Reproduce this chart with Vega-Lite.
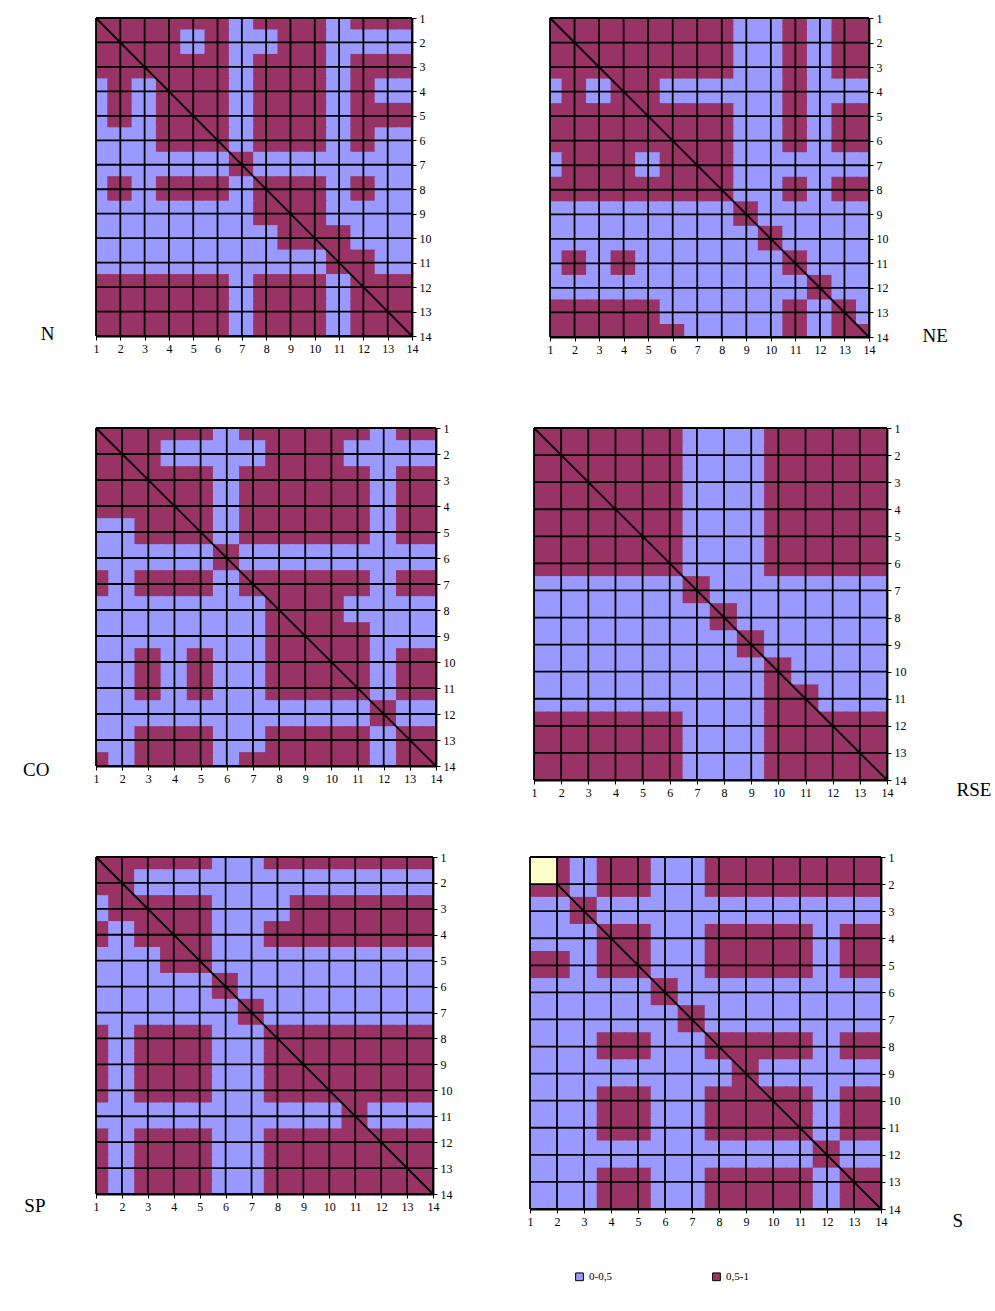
{
  "$schema": "https://vega.github.io/schema/vega-lite/v6.json",
  "padding": {"left": 22, "top": 12, "right": 0, "bottom": 0},
  "background": "white",
  "config": {
    "font": "Liberation Serif",
    "view": {"stroke": null},
    "axis": {"grid": false, "labelFont": "Liberation Serif", "labelFontSize": 12, "labelColor": "black", "tickColor": "black", "tickSize": 4, "tickWidth": 1, "domainColor": "black", "domainWidth": 1.8, "labelPadding": 3, "labelOverlap": false, "labelFlush": false, "titleFont": "Liberation Serif", "titleFontSize": 19, "titleFontWeight": "normal", "titleColor": "black", "titleAngle": 0, "titleBaseline": "middle"},
    "rule": {"color": "black", "strokeWidth": 1.8},
    "legend": {"orient": "none", "legendX": 478, "legendY": 1253, "direction": "horizontal", "title": null, "labelFont": "Liberation Serif", "labelFontSize": 11, "labelColor": "black", "symbolType": "square", "symbolSize": 60, "symbolStrokeColor": "black", "symbolStrokeWidth": 1, "columnPadding": 98}
  },
  "datasets": {
    "one": [{}],
    "grid": [{"g":1},{"g":2},{"g":3},{"g":4},{"g":5},{"g":6},{"g":7},{"g":8},{"g":9},{"g":10},{"g":11},{"g":12},{"g":13},{"g":14}],
    "N": [
      {"y":1,"1":1,"2":1,"3":1,"4":1,"5":1,"6":1,"7":0,"8":1,"9":1,"10":1,"11":0,"12":1,"13":1,"14":1},
      {"y":2,"1":1,"2":1,"3":1,"4":1,"5":0,"6":1,"7":0,"8":0,"9":1,"10":1,"11":0,"12":0,"13":0,"14":0},
      {"y":3,"1":1,"2":1,"3":1,"4":1,"5":1,"6":1,"7":0,"8":1,"9":1,"10":1,"11":0,"12":1,"13":1,"14":1},
      {"y":4,"1":0,"2":1,"3":0,"4":1,"5":1,"6":1,"7":0,"8":1,"9":1,"10":1,"11":0,"12":1,"13":0,"14":0},
      {"y":5,"1":0,"2":1,"3":0,"4":1,"5":1,"6":1,"7":0,"8":1,"9":1,"10":1,"11":0,"12":1,"13":1,"14":1},
      {"y":6,"1":0,"2":0,"3":0,"4":1,"5":1,"6":1,"7":0,"8":1,"9":1,"10":1,"11":0,"12":1,"13":0,"14":0},
      {"y":7,"1":0,"2":0,"3":0,"4":0,"5":0,"6":0,"7":1,"8":0,"9":0,"10":0,"11":0,"12":0,"13":0,"14":0},
      {"y":8,"1":0,"2":1,"3":0,"4":1,"5":1,"6":1,"7":0,"8":1,"9":1,"10":1,"11":0,"12":1,"13":0,"14":0},
      {"y":9,"1":0,"2":0,"3":0,"4":0,"5":0,"6":0,"7":0,"8":1,"9":1,"10":1,"11":0,"12":0,"13":0,"14":0},
      {"y":10,"1":0,"2":0,"3":0,"4":0,"5":0,"6":0,"7":0,"8":0,"9":1,"10":1,"11":1,"12":0,"13":0,"14":0},
      {"y":11,"1":0,"2":0,"3":0,"4":0,"5":0,"6":0,"7":0,"8":0,"9":0,"10":0,"11":1,"12":1,"13":0,"14":0},
      {"y":12,"1":1,"2":1,"3":1,"4":1,"5":1,"6":1,"7":0,"8":1,"9":1,"10":1,"11":0,"12":1,"13":1,"14":1},
      {"y":13,"1":1,"2":1,"3":1,"4":1,"5":1,"6":1,"7":0,"8":1,"9":1,"10":1,"11":0,"12":1,"13":1,"14":1},
      {"y":14,"1":1,"2":1,"3":1,"4":1,"5":1,"6":1,"7":0,"8":1,"9":1,"10":1,"11":0,"12":1,"13":1,"14":1}
    ],
    "NE": [
      {"y":1,"1":1,"2":1,"3":1,"4":1,"5":1,"6":1,"7":1,"8":1,"9":0,"10":0,"11":1,"12":0,"13":1,"14":1},
      {"y":2,"1":1,"2":1,"3":1,"4":1,"5":1,"6":1,"7":1,"8":1,"9":0,"10":0,"11":1,"12":0,"13":1,"14":1},
      {"y":3,"1":1,"2":1,"3":1,"4":1,"5":1,"6":1,"7":1,"8":1,"9":0,"10":0,"11":1,"12":0,"13":1,"14":1},
      {"y":4,"1":0,"2":1,"3":0,"4":1,"5":1,"6":0,"7":0,"8":0,"9":0,"10":0,"11":1,"12":0,"13":0,"14":0},
      {"y":5,"1":1,"2":1,"3":1,"4":1,"5":1,"6":1,"7":1,"8":1,"9":0,"10":0,"11":1,"12":0,"13":1,"14":1},
      {"y":6,"1":1,"2":1,"3":1,"4":1,"5":1,"6":1,"7":1,"8":1,"9":0,"10":0,"11":1,"12":0,"13":1,"14":1},
      {"y":7,"1":0,"2":1,"3":1,"4":1,"5":0,"6":1,"7":1,"8":1,"9":0,"10":0,"11":0,"12":0,"13":0,"14":0},
      {"y":8,"1":1,"2":1,"3":1,"4":1,"5":1,"6":1,"7":1,"8":1,"9":0,"10":0,"11":1,"12":0,"13":1,"14":1},
      {"y":9,"1":0,"2":0,"3":0,"4":0,"5":0,"6":0,"7":0,"8":0,"9":1,"10":0,"11":0,"12":0,"13":0,"14":0},
      {"y":10,"1":0,"2":0,"3":0,"4":0,"5":0,"6":0,"7":0,"8":0,"9":0,"10":1,"11":0,"12":0,"13":0,"14":0},
      {"y":11,"1":0,"2":1,"3":0,"4":1,"5":0,"6":0,"7":0,"8":0,"9":0,"10":0,"11":1,"12":0,"13":0,"14":0},
      {"y":12,"1":0,"2":0,"3":0,"4":0,"5":0,"6":0,"7":0,"8":0,"9":0,"10":0,"11":0,"12":1,"13":0,"14":0},
      {"y":13,"1":1,"2":1,"3":1,"4":1,"5":1,"6":0,"7":0,"8":0,"9":0,"10":0,"11":1,"12":0,"13":1,"14":0},
      {"y":14,"1":1,"2":1,"3":1,"4":1,"5":1,"6":1,"7":0,"8":0,"9":0,"10":0,"11":1,"12":0,"13":1,"14":1}
    ],
    "CO": [
      {"y":1,"1":1,"2":1,"3":1,"4":1,"5":1,"6":0,"7":1,"8":1,"9":1,"10":1,"11":1,"12":0,"13":1,"14":1},
      {"y":2,"1":1,"2":1,"3":1,"4":0,"5":0,"6":0,"7":0,"8":1,"9":1,"10":1,"11":0,"12":0,"13":0,"14":0},
      {"y":3,"1":1,"2":1,"3":1,"4":1,"5":1,"6":0,"7":1,"8":1,"9":1,"10":1,"11":1,"12":0,"13":1,"14":1},
      {"y":4,"1":1,"2":1,"3":1,"4":1,"5":1,"6":0,"7":1,"8":1,"9":1,"10":1,"11":1,"12":0,"13":1,"14":1},
      {"y":5,"1":0,"2":0,"3":1,"4":1,"5":1,"6":0,"7":1,"8":1,"9":1,"10":1,"11":1,"12":0,"13":1,"14":1},
      {"y":6,"1":0,"2":0,"3":0,"4":0,"5":0,"6":1,"7":0,"8":0,"9":0,"10":0,"11":0,"12":0,"13":0,"14":0},
      {"y":7,"1":1,"2":0,"3":1,"4":1,"5":1,"6":0,"7":1,"8":1,"9":1,"10":1,"11":1,"12":0,"13":1,"14":1},
      {"y":8,"1":0,"2":0,"3":0,"4":0,"5":0,"6":0,"7":0,"8":1,"9":1,"10":1,"11":0,"12":0,"13":0,"14":0},
      {"y":9,"1":0,"2":0,"3":0,"4":0,"5":0,"6":0,"7":0,"8":1,"9":1,"10":1,"11":1,"12":0,"13":0,"14":0},
      {"y":10,"1":0,"2":0,"3":1,"4":0,"5":1,"6":0,"7":0,"8":1,"9":1,"10":1,"11":1,"12":0,"13":1,"14":1},
      {"y":11,"1":0,"2":0,"3":1,"4":0,"5":1,"6":0,"7":0,"8":1,"9":1,"10":1,"11":1,"12":0,"13":1,"14":1},
      {"y":12,"1":0,"2":0,"3":0,"4":0,"5":0,"6":0,"7":0,"8":0,"9":0,"10":0,"11":0,"12":1,"13":0,"14":0},
      {"y":13,"1":0,"2":0,"3":1,"4":1,"5":1,"6":0,"7":0,"8":1,"9":1,"10":1,"11":1,"12":0,"13":1,"14":1},
      {"y":14,"1":1,"2":0,"3":1,"4":1,"5":1,"6":0,"7":1,"8":1,"9":1,"10":1,"11":1,"12":0,"13":1,"14":1}
    ],
    "RSE": [
      {"y":1,"1":1,"2":1,"3":1,"4":1,"5":1,"6":1,"7":0,"8":0,"9":0,"10":1,"11":1,"12":1,"13":1,"14":1},
      {"y":2,"1":1,"2":1,"3":1,"4":1,"5":1,"6":1,"7":0,"8":0,"9":0,"10":1,"11":1,"12":1,"13":1,"14":1},
      {"y":3,"1":1,"2":1,"3":1,"4":1,"5":1,"6":1,"7":0,"8":0,"9":0,"10":1,"11":1,"12":1,"13":1,"14":1},
      {"y":4,"1":1,"2":1,"3":1,"4":1,"5":1,"6":1,"7":0,"8":0,"9":0,"10":1,"11":1,"12":1,"13":1,"14":1},
      {"y":5,"1":1,"2":1,"3":1,"4":1,"5":1,"6":1,"7":0,"8":0,"9":0,"10":1,"11":1,"12":1,"13":1,"14":1},
      {"y":6,"1":1,"2":1,"3":1,"4":1,"5":1,"6":1,"7":0,"8":0,"9":0,"10":1,"11":1,"12":1,"13":1,"14":1},
      {"y":7,"1":0,"2":0,"3":0,"4":0,"5":0,"6":0,"7":1,"8":0,"9":0,"10":0,"11":0,"12":0,"13":0,"14":0},
      {"y":8,"1":0,"2":0,"3":0,"4":0,"5":0,"6":0,"7":0,"8":1,"9":0,"10":0,"11":0,"12":0,"13":0,"14":0},
      {"y":9,"1":0,"2":0,"3":0,"4":0,"5":0,"6":0,"7":0,"8":0,"9":1,"10":0,"11":0,"12":0,"13":0,"14":0},
      {"y":10,"1":0,"2":0,"3":0,"4":0,"5":0,"6":0,"7":0,"8":0,"9":0,"10":1,"11":0,"12":0,"13":0,"14":0},
      {"y":11,"1":0,"2":0,"3":0,"4":0,"5":0,"6":0,"7":0,"8":0,"9":0,"10":1,"11":1,"12":0,"13":0,"14":0},
      {"y":12,"1":1,"2":1,"3":1,"4":1,"5":1,"6":1,"7":0,"8":0,"9":0,"10":1,"11":1,"12":1,"13":1,"14":1},
      {"y":13,"1":1,"2":1,"3":1,"4":1,"5":1,"6":1,"7":0,"8":0,"9":0,"10":1,"11":1,"12":1,"13":1,"14":1},
      {"y":14,"1":1,"2":1,"3":1,"4":1,"5":1,"6":1,"7":0,"8":0,"9":0,"10":1,"11":1,"12":1,"13":1,"14":1}
    ],
    "SP": [
      {"y":1,"1":1,"2":1,"3":1,"4":1,"5":1,"6":0,"7":0,"8":1,"9":1,"10":1,"11":1,"12":1,"13":1,"14":1},
      {"y":2,"1":1,"2":1,"3":0,"4":0,"5":0,"6":0,"7":0,"8":0,"9":0,"10":0,"11":0,"12":0,"13":0,"14":0},
      {"y":3,"1":0,"2":1,"3":1,"4":1,"5":1,"6":0,"7":0,"8":0,"9":1,"10":1,"11":1,"12":1,"13":1,"14":1},
      {"y":4,"1":1,"2":0,"3":1,"4":1,"5":1,"6":0,"7":0,"8":1,"9":1,"10":1,"11":1,"12":1,"13":1,"14":1},
      {"y":5,"1":0,"2":0,"3":0,"4":1,"5":1,"6":0,"7":0,"8":0,"9":0,"10":0,"11":0,"12":0,"13":0,"14":0},
      {"y":6,"1":0,"2":0,"3":0,"4":0,"5":0,"6":1,"7":0,"8":0,"9":0,"10":0,"11":0,"12":0,"13":0,"14":0},
      {"y":7,"1":0,"2":0,"3":0,"4":0,"5":0,"6":0,"7":1,"8":0,"9":0,"10":0,"11":0,"12":0,"13":0,"14":0},
      {"y":8,"1":1,"2":0,"3":1,"4":1,"5":1,"6":0,"7":0,"8":1,"9":1,"10":1,"11":1,"12":1,"13":1,"14":1},
      {"y":9,"1":1,"2":0,"3":1,"4":1,"5":1,"6":0,"7":0,"8":1,"9":1,"10":1,"11":1,"12":1,"13":1,"14":1},
      {"y":10,"1":1,"2":0,"3":1,"4":1,"5":1,"6":0,"7":0,"8":1,"9":1,"10":1,"11":1,"12":1,"13":1,"14":1},
      {"y":11,"1":0,"2":0,"3":0,"4":0,"5":0,"6":0,"7":0,"8":0,"9":0,"10":0,"11":1,"12":0,"13":0,"14":0},
      {"y":12,"1":1,"2":0,"3":1,"4":1,"5":1,"6":0,"7":0,"8":1,"9":1,"10":1,"11":1,"12":1,"13":1,"14":1},
      {"y":13,"1":1,"2":0,"3":1,"4":1,"5":1,"6":0,"7":0,"8":1,"9":1,"10":1,"11":1,"12":1,"13":1,"14":1},
      {"y":14,"1":1,"2":0,"3":1,"4":1,"5":1,"6":0,"7":0,"8":1,"9":1,"10":1,"11":1,"12":1,"13":1,"14":1}
    ],
    "S": [
      {"y":1,"1":0,"2":1,"3":0,"4":1,"5":1,"6":0,"7":0,"8":1,"9":1,"10":1,"11":1,"12":1,"13":1,"14":1},
      {"y":2,"1":1,"2":1,"3":0,"4":1,"5":1,"6":0,"7":0,"8":1,"9":1,"10":1,"11":1,"12":1,"13":1,"14":1},
      {"y":3,"1":0,"2":0,"3":1,"4":0,"5":0,"6":0,"7":0,"8":0,"9":0,"10":0,"11":0,"12":0,"13":0,"14":0},
      {"y":4,"1":0,"2":0,"3":0,"4":1,"5":1,"6":0,"7":0,"8":1,"9":1,"10":1,"11":1,"12":0,"13":1,"14":1},
      {"y":5,"1":1,"2":1,"3":0,"4":1,"5":1,"6":0,"7":0,"8":1,"9":1,"10":1,"11":1,"12":0,"13":1,"14":1},
      {"y":6,"1":0,"2":0,"3":0,"4":0,"5":0,"6":1,"7":0,"8":0,"9":0,"10":0,"11":0,"12":0,"13":0,"14":0},
      {"y":7,"1":0,"2":0,"3":0,"4":0,"5":0,"6":0,"7":1,"8":0,"9":0,"10":0,"11":0,"12":0,"13":0,"14":0},
      {"y":8,"1":0,"2":0,"3":0,"4":1,"5":1,"6":0,"7":0,"8":1,"9":1,"10":1,"11":1,"12":0,"13":1,"14":1},
      {"y":9,"1":0,"2":0,"3":0,"4":0,"5":0,"6":0,"7":0,"8":0,"9":1,"10":0,"11":0,"12":0,"13":0,"14":0},
      {"y":10,"1":0,"2":0,"3":0,"4":1,"5":1,"6":0,"7":0,"8":1,"9":1,"10":1,"11":1,"12":0,"13":1,"14":1},
      {"y":11,"1":0,"2":0,"3":0,"4":1,"5":1,"6":0,"7":0,"8":1,"9":1,"10":1,"11":1,"12":0,"13":1,"14":1},
      {"y":12,"1":0,"2":0,"3":0,"4":0,"5":0,"6":0,"7":0,"8":0,"9":0,"10":0,"11":0,"12":1,"13":0,"14":0},
      {"y":13,"1":0,"2":0,"3":0,"4":1,"5":1,"6":0,"7":0,"8":1,"9":1,"10":1,"11":1,"12":0,"13":1,"14":1},
      {"y":14,"1":0,"2":0,"3":0,"4":1,"5":1,"6":0,"7":0,"8":1,"9":1,"10":1,"11":1,"12":0,"13":1,"14":1}
    ]
  },
  "vconcat": [
    {
      "hconcat": [
        {
          "width": 316, "height": 318,
          "layer": [
            {"data": {"name": "N"}, "transform": [{"fold": ["1","2","3","4","5","6","7","8","9","10","11","12","13","14"], "as": ["x", "v"]}],
             "mark": {"type": "square", "size": 676, "opacity": 1, "filled": true, "clip": true, "strokeWidth": 0},
             "encoding": {
               "x": {"field": "x", "type": "quantitative", "scale": {"domain": [1, 14], "nice": false, "zero": false}, "axis": {"values": [1,2,3,4,5,6,7,8,9,10,11,12,13,14], "labelOverlap": false, "title": "N", "titleX": -42, "titleY": -3, "titleAlign": "right"}},
               "y": {"field": "y", "type": "quantitative", "scale": {"domain": [1, 14], "nice": false, "zero": false, "reverse": true}, "axis": {"orient": "right", "values": [1,2,3,4,5,6,7,8,9,10,11,12,13,14], "labelOverlap": false, "title": null}},
               "color": {"field": "v", "type": "nominal", "scale": {"domain": [0, 1], "range": ["#9999FF", "#993366"]}, "legend": {"values": [0, 1], "labelExpr": "datum.value == 0 ? '0-0,5' : '0,5-1'"}}
             }},
            {"data": {"name": "grid"}, "mark": {"type": "rule"},
             "encoding": {"x": {"field": "g", "type": "quantitative", "scale": {"domain": [1, 14], "nice": false, "zero": false}, "axis": {"values": [1,2,3,4,5,6,7,8,9,10,11,12,13,14], "labelOverlap": false, "title": "N", "titleX": -42, "titleY": -3, "titleAlign": "right"}}}},
            {"data": {"name": "grid"}, "mark": {"type": "rule"},
             "encoding": {"y": {"field": "g", "type": "quantitative", "scale": {"domain": [1, 14], "nice": false, "zero": false, "reverse": true}, "axis": {"orient": "right", "values": [1,2,3,4,5,6,7,8,9,10,11,12,13,14], "labelOverlap": false, "title": null}}}},
            {"data": {"name": "one"}, "mark": {"type": "rule"},
             "encoding": {
               "x": {"datum": 1, "type": "quantitative", "scale": {"domain": [1, 14], "nice": false, "zero": false}, "axis": {"values": [1,2,3,4,5,6,7,8,9,10,11,12,13,14], "labelOverlap": false, "title": "N", "titleX": -42, "titleY": -3, "titleAlign": "right"}},
               "x2": {"datum": 14},
               "y": {"datum": 1, "type": "quantitative", "scale": {"domain": [1, 14], "nice": false, "zero": false, "reverse": true}, "axis": {"orient": "right", "values": [1,2,3,4,5,6,7,8,9,10,11,12,13,14], "labelOverlap": false, "title": null}},
               "y2": {"datum": 14}}}
          ]
        },
        {
          "width": 319, "height": 319,
          "layer": [
            {"data": {"name": "NE"}, "transform": [{"fold": ["1","2","3","4","5","6","7","8","9","10","11","12","13","14"], "as": ["x", "v"]}],
             "mark": {"type": "square", "size": 676, "opacity": 1, "filled": true, "clip": true, "strokeWidth": 0},
             "encoding": {
               "x": {"field": "x", "type": "quantitative", "scale": {"domain": [1, 14], "nice": false, "zero": false}, "axis": {"values": [1,2,3,4,5,6,7,8,9,10,11,12,13,14], "labelOverlap": false, "title": "NE", "titleX": 372, "titleY": -2, "titleAlign": "left"}},
               "y": {"field": "y", "type": "quantitative", "scale": {"domain": [1, 14], "nice": false, "zero": false, "reverse": true}, "axis": {"orient": "right", "values": [1,2,3,4,5,6,7,8,9,10,11,12,13,14], "labelOverlap": false, "title": null}},
               "color": {"field": "v", "type": "nominal", "scale": {"domain": [0, 1], "range": ["#9999FF", "#993366"]}, "legend": {"values": [0, 1], "labelExpr": "datum.value == 0 ? '0-0,5' : '0,5-1'"}}
             }},
            {"data": {"name": "grid"}, "mark": {"type": "rule"},
             "encoding": {"x": {"field": "g", "type": "quantitative", "scale": {"domain": [1, 14], "nice": false, "zero": false}, "axis": {"values": [1,2,3,4,5,6,7,8,9,10,11,12,13,14], "labelOverlap": false, "title": "NE", "titleX": 372, "titleY": -2, "titleAlign": "left"}}}},
            {"data": {"name": "grid"}, "mark": {"type": "rule"},
             "encoding": {"y": {"field": "g", "type": "quantitative", "scale": {"domain": [1, 14], "nice": false, "zero": false, "reverse": true}, "axis": {"orient": "right", "values": [1,2,3,4,5,6,7,8,9,10,11,12,13,14], "labelOverlap": false, "title": null}}}},
            {"data": {"name": "one"}, "mark": {"type": "rule"},
             "encoding": {
               "x": {"datum": 1, "type": "quantitative", "scale": {"domain": [1, 14], "nice": false, "zero": false}, "axis": {"values": [1,2,3,4,5,6,7,8,9,10,11,12,13,14], "labelOverlap": false, "title": "NE", "titleX": 372, "titleY": -2, "titleAlign": "left"}},
               "x2": {"datum": 14},
               "y": {"datum": 1, "type": "quantitative", "scale": {"domain": [1, 14], "nice": false, "zero": false, "reverse": true}, "axis": {"orient": "right", "values": [1,2,3,4,5,6,7,8,9,10,11,12,13,14], "labelOverlap": false, "title": null}},
               "y2": {"datum": 14}}}
          ]
        }
      ],
      "spacing": 116
    },
    {
      "vconcat": [
        {
          "hconcat": [
            {
              "width": 340, "height": 338,
              "layer": [
                {"data": {"name": "CO"}, "transform": [{"fold": ["1","2","3","4","5","6","7","8","9","10","11","12","13","14"], "as": ["x", "v"]}],
                 "mark": {"type": "square", "size": 765, "opacity": 1, "filled": true, "clip": true, "strokeWidth": 0},
                 "encoding": {
                   "x": {"field": "x", "type": "quantitative", "scale": {"domain": [1, 14], "nice": false, "zero": false}, "axis": {"values": [1,2,3,4,5,6,7,8,9,10,11,12,13,14], "labelOverlap": false, "title": "CO", "titleX": -47, "titleY": 3, "titleAlign": "right"}},
                   "y": {"field": "y", "type": "quantitative", "scale": {"domain": [1, 14], "nice": false, "zero": false, "reverse": true}, "axis": {"orient": "right", "values": [1,2,3,4,5,6,7,8,9,10,11,12,13,14], "labelOverlap": false, "title": null}},
                   "color": {"field": "v", "type": "nominal", "scale": {"domain": [0, 1], "range": ["#9999FF", "#993366"]}, "legend": {"values": [0, 1], "labelExpr": "datum.value == 0 ? '0-0,5' : '0,5-1'"}}
                 }},
                {"data": {"name": "grid"}, "mark": {"type": "rule"},
                 "encoding": {"x": {"field": "g", "type": "quantitative", "scale": {"domain": [1, 14], "nice": false, "zero": false}, "axis": {"values": [1,2,3,4,5,6,7,8,9,10,11,12,13,14], "labelOverlap": false, "title": "CO", "titleX": -47, "titleY": 3, "titleAlign": "right"}}}},
                {"data": {"name": "grid"}, "mark": {"type": "rule"},
                 "encoding": {"y": {"field": "g", "type": "quantitative", "scale": {"domain": [1, 14], "nice": false, "zero": false, "reverse": true}, "axis": {"orient": "right", "values": [1,2,3,4,5,6,7,8,9,10,11,12,13,14], "labelOverlap": false, "title": null}}}},
                {"data": {"name": "one"}, "mark": {"type": "rule"},
                 "encoding": {
                   "x": {"datum": 1, "type": "quantitative", "scale": {"domain": [1, 14], "nice": false, "zero": false}, "axis": {"values": [1,2,3,4,5,6,7,8,9,10,11,12,13,14], "labelOverlap": false, "title": "CO", "titleX": -47, "titleY": 3, "titleAlign": "right"}},
                   "x2": {"datum": 14},
                   "y": {"datum": 1, "type": "quantitative", "scale": {"domain": [1, 14], "nice": false, "zero": false, "reverse": true}, "axis": {"orient": "right", "values": [1,2,3,4,5,6,7,8,9,10,11,12,13,14], "labelOverlap": false, "title": null}},
                   "y2": {"datum": 14}}}
              ]
            },
            {
              "width": 353, "height": 352,
              "layer": [
                {"data": {"name": "RSE"}, "transform": [{"fold": ["1","2","3","4","5","6","7","8","9","10","11","12","13","14"], "as": ["x", "v"]}],
                 "mark": {"type": "square", "size": 821, "opacity": 1, "filled": true, "clip": true, "strokeWidth": 0},
                 "encoding": {
                   "x": {"field": "x", "type": "quantitative", "scale": {"domain": [1, 14], "nice": false, "zero": false}, "axis": {"values": [1,2,3,4,5,6,7,8,9,10,11,12,13,14], "labelOverlap": false, "title": "RSE", "titleX": 422, "titleY": 9, "titleAlign": "left"}},
                   "y": {"field": "y", "type": "quantitative", "scale": {"domain": [1, 14], "nice": false, "zero": false, "reverse": true}, "axis": {"orient": "right", "values": [1,2,3,4,5,6,7,8,9,10,11,12,13,14], "labelOverlap": false, "title": null}},
                   "color": {"field": "v", "type": "nominal", "scale": {"domain": [0, 1], "range": ["#9999FF", "#993366"]}, "legend": {"values": [0, 1], "labelExpr": "datum.value == 0 ? '0-0,5' : '0,5-1'"}}
                 }},
                {"data": {"name": "grid"}, "mark": {"type": "rule"},
                 "encoding": {"x": {"field": "g", "type": "quantitative", "scale": {"domain": [1, 14], "nice": false, "zero": false}, "axis": {"values": [1,2,3,4,5,6,7,8,9,10,11,12,13,14], "labelOverlap": false, "title": "RSE", "titleX": 422, "titleY": 9, "titleAlign": "left"}}}},
                {"data": {"name": "grid"}, "mark": {"type": "rule"},
                 "encoding": {"y": {"field": "g", "type": "quantitative", "scale": {"domain": [1, 14], "nice": false, "zero": false, "reverse": true}, "axis": {"orient": "right", "values": [1,2,3,4,5,6,7,8,9,10,11,12,13,14], "labelOverlap": false, "title": null}}}},
                {"data": {"name": "one"}, "mark": {"type": "rule"},
                 "encoding": {
                   "x": {"datum": 1, "type": "quantitative", "scale": {"domain": [1, 14], "nice": false, "zero": false}, "axis": {"values": [1,2,3,4,5,6,7,8,9,10,11,12,13,14], "labelOverlap": false, "title": "RSE", "titleX": 422, "titleY": 9, "titleAlign": "left"}},
                   "x2": {"datum": 14},
                   "y": {"datum": 1, "type": "quantitative", "scale": {"domain": [1, 14], "nice": false, "zero": false, "reverse": true}, "axis": {"orient": "right", "values": [1,2,3,4,5,6,7,8,9,10,11,12,13,14], "labelOverlap": false, "title": null}},
                   "y2": {"datum": 14}}}
              ]
            }
          ],
          "spacing": 76
        },
        {
          "hconcat": [
            {
              "width": 337, "height": 337,
              "layer": [
                {"data": {"name": "SP"}, "transform": [{"fold": ["1","2","3","4","5","6","7","8","9","10","11","12","13","14"], "as": ["x", "v"]}],
                 "mark": {"type": "square", "size": 751, "opacity": 1, "filled": true, "clip": true, "strokeWidth": 0},
                 "encoding": {
                   "x": {"field": "x", "type": "quantitative", "scale": {"domain": [1, 14], "nice": false, "zero": false}, "axis": {"values": [1,2,3,4,5,6,7,8,9,10,11,12,13,14], "labelOverlap": false, "title": "SP", "titleX": -51, "titleY": 11, "titleAlign": "right"}},
                   "y": {"field": "y", "type": "quantitative", "scale": {"domain": [1, 14], "nice": false, "zero": false, "reverse": true}, "axis": {"orient": "right", "values": [1,2,3,4,5,6,7,8,9,10,11,12,13,14], "labelOverlap": false, "title": null}},
                   "color": {"field": "v", "type": "nominal", "scale": {"domain": [0, 1], "range": ["#9999FF", "#993366"]}, "legend": {"values": [0, 1], "labelExpr": "datum.value == 0 ? '0-0,5' : '0,5-1'"}}
                 }},
                {"data": {"name": "grid"}, "mark": {"type": "rule"},
                 "encoding": {"x": {"field": "g", "type": "quantitative", "scale": {"domain": [1, 14], "nice": false, "zero": false}, "axis": {"values": [1,2,3,4,5,6,7,8,9,10,11,12,13,14], "labelOverlap": false, "title": "SP", "titleX": -51, "titleY": 11, "titleAlign": "right"}}}},
                {"data": {"name": "grid"}, "mark": {"type": "rule"},
                 "encoding": {"y": {"field": "g", "type": "quantitative", "scale": {"domain": [1, 14], "nice": false, "zero": false, "reverse": true}, "axis": {"orient": "right", "values": [1,2,3,4,5,6,7,8,9,10,11,12,13,14], "labelOverlap": false, "title": null}}}},
                {"data": {"name": "one"}, "mark": {"type": "rule"},
                 "encoding": {
                   "x": {"datum": 1, "type": "quantitative", "scale": {"domain": [1, 14], "nice": false, "zero": false}, "axis": {"values": [1,2,3,4,5,6,7,8,9,10,11,12,13,14], "labelOverlap": false, "title": "SP", "titleX": -51, "titleY": 11, "titleAlign": "right"}},
                   "x2": {"datum": 14},
                   "y": {"datum": 1, "type": "quantitative", "scale": {"domain": [1, 14], "nice": false, "zero": false, "reverse": true}, "axis": {"orient": "right", "values": [1,2,3,4,5,6,7,8,9,10,11,12,13,14], "labelOverlap": false, "title": null}},
                   "y2": {"datum": 14}}}
              ]
            },
            {
              "width": 351, "height": 352,
              "layer": [
                {"data": {"name": "S"}, "transform": [{"fold": ["1","2","3","4","5","6","7","8","9","10","11","12","13","14"], "as": ["x", "v"]}],
                 "mark": {"type": "square", "size": 816, "opacity": 1, "filled": true, "clip": true, "strokeWidth": 0},
                 "encoding": {
                   "x": {"field": "x", "type": "quantitative", "scale": {"domain": [1, 14], "nice": false, "zero": false}, "axis": {"values": [1,2,3,4,5,6,7,8,9,10,11,12,13,14], "labelOverlap": false, "title": "S", "titleX": 422, "titleY": 11, "titleAlign": "left"}},
                   "y": {"field": "y", "type": "quantitative", "scale": {"domain": [1, 14], "nice": false, "zero": false, "reverse": true}, "axis": {"orient": "right", "values": [1,2,3,4,5,6,7,8,9,10,11,12,13,14], "labelOverlap": false, "title": null}},
                   "color": {"field": "v", "type": "nominal", "scale": {"domain": [0, 1], "range": ["#9999FF", "#993366"]}, "legend": {"values": [0, 1], "labelExpr": "datum.value == 0 ? '0-0,5' : '0,5-1'"}}
                 }},
                {"data": {"name": "one"}, "mark": {"type": "rect", "color": "#FFFFCC", "opacity": 1},
                 "encoding": {
                   "x": {"datum": 1, "type": "quantitative", "scale": {"domain": [1, 14], "nice": false, "zero": false}, "axis": {"values": [1,2,3,4,5,6,7,8,9,10,11,12,13,14], "labelOverlap": false, "title": "S", "titleX": 422, "titleY": 11, "titleAlign": "left"}},
                   "x2": {"datum": 2},
                   "y": {"datum": 1, "type": "quantitative", "scale": {"domain": [1, 14], "nice": false, "zero": false, "reverse": true}, "axis": {"orient": "right", "values": [1,2,3,4,5,6,7,8,9,10,11,12,13,14], "labelOverlap": false, "title": null}},
                   "y2": {"datum": 2}}},
                {"data": {"name": "grid"}, "mark": {"type": "rule"},
                 "encoding": {"x": {"field": "g", "type": "quantitative", "scale": {"domain": [1, 14], "nice": false, "zero": false}, "axis": {"values": [1,2,3,4,5,6,7,8,9,10,11,12,13,14], "labelOverlap": false, "title": "S", "titleX": 422, "titleY": 11, "titleAlign": "left"}}}},
                {"data": {"name": "grid"}, "mark": {"type": "rule"},
                 "encoding": {"y": {"field": "g", "type": "quantitative", "scale": {"domain": [1, 14], "nice": false, "zero": false, "reverse": true}, "axis": {"orient": "right", "values": [1,2,3,4,5,6,7,8,9,10,11,12,13,14], "labelOverlap": false, "title": null}}}},
                {"data": {"name": "one"}, "mark": {"type": "rule"},
                 "encoding": {
                   "x": {"datum": 2, "type": "quantitative", "scale": {"domain": [1, 14], "nice": false, "zero": false}, "axis": {"values": [1,2,3,4,5,6,7,8,9,10,11,12,13,14], "labelOverlap": false, "title": "S", "titleX": 422, "titleY": 11, "titleAlign": "left"}},
                   "x2": {"datum": 14},
                   "y": {"datum": 2, "type": "quantitative", "scale": {"domain": [1, 14], "nice": false, "zero": false, "reverse": true}, "axis": {"orient": "right", "values": [1,2,3,4,5,6,7,8,9,10,11,12,13,14], "labelOverlap": false, "title": null}},
                   "y2": {"datum": 14}}}
              ]
            }
          ],
          "spacing": 75
        }
      ],
      "spacing": 52
    }
  ],
  "spacing": 67
}
